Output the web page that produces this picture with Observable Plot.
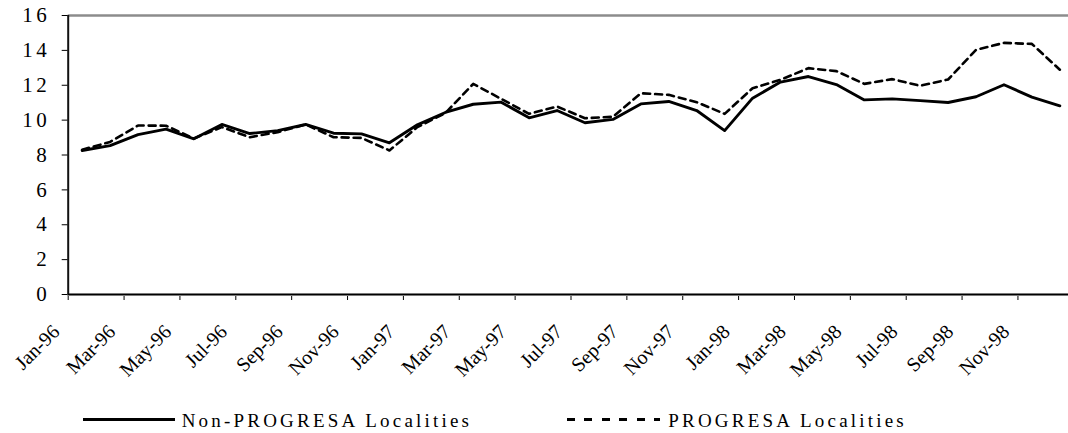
<!DOCTYPE html>
<html><head><meta charset="utf-8">
<script src="https://cdn.jsdelivr.net/npm/d3@7"></script>
<script src="https://cdn.jsdelivr.net/npm/@observablehq/plot@0.6"></script>
<style>
html,body{margin:0;padding:0;background:#fff;overflow:hidden;}
#chart svg{display:block;}
#chart g[aria-label="y-axis tick label"] text{letter-spacing:3.5px;}
#legend{position:relative;width:1068px;height:59px;font-family:"Liberation Serif","Times New Roman",serif;font-size:19px;line-height:19px;letter-spacing:3.2px;color:#000;}
#legend .sw{position:absolute;top:44px;height:2.6px;}
#legend .lb{position:absolute;top:37px;white-space:nowrap;}
</style></head>
<body><div id="chart"></div><div id="legend"></div>
<script>
const months = ["Jan-96","Feb-96","Mar-96","Apr-96","May-96","Jun-96","Jul-96","Aug-96","Sep-96","Oct-96","Nov-96","Dec-96",
  "Jan-97","Feb-97","Mar-97","Apr-97","May-97","Jun-97","Jul-97","Aug-97","Sep-97","Oct-97","Nov-97","Dec-97",
  "Jan-98","Feb-98","Mar-98","Apr-98","May-98","Jun-98","Jul-98","Aug-98","Sep-98","Oct-98","Nov-98","Dec-98"];
const nonProgresa = [8.26,8.54,9.17,9.48,8.93,9.75,9.23,9.40,9.75,9.25,9.21,8.70,
  9.73,10.44,10.91,11.03,10.13,10.55,9.85,10.04,10.93,11.07,10.55,9.40,
  11.26,12.18,12.50,12.04,11.16,11.22,11.12,11.01,11.34,12.03,11.32,10.82];
const progresa = [8.30,8.75,9.69,9.68,8.95,9.60,9.02,9.31,9.75,9.02,8.98,8.26,
  9.60,10.40,12.08,11.22,10.36,10.78,10.11,10.19,11.54,11.45,11.03,10.36,
  11.83,12.31,12.98,12.81,12.08,12.35,11.97,12.33,14.03,14.43,14.37,12.89];
const tickLabels = ["Jan-96","Mar-96","May-96","Jul-96","Sep-96","Nov-96","Jan-97","Mar-97","May-97","Jul-97","Sep-97","Nov-97",
  "Jan-98","Mar-98","May-98","Jul-98","Sep-98","Nov-98"];
const yTicks = [0,2,4,6,8,10,12,14,16];
const seriesNames = ["Non-PROGRESA Localities","PROGRESA Localities"];

const xTicks = tickLabels.map(l => months.indexOf(l));
const solidData = months.map((m,i) => ({i, v: nonProgresa[i]}));
const dashData = months.map((m,i) => ({i, v: progresa[i]}));

const chart = Plot.plot({
  width: 1068, height: 374,
  marginLeft: 67.7, marginRight: 0, marginTop: 15, marginBottom: 80,
  x: {domain: [0, 35.81]},
  y: {domain: [0, 16]},
  style: {fontFamily: "'Liberation Serif','Times New Roman',serif", fontSize: "20px", background: "white", color: "black", overflow: "visible"},
  marks: [
    Plot.ruleY([yTicks[yTicks.length-1]], {stroke: "#8c8c8c", strokeWidth: 2.3}),
    Plot.axisY({ticks: yTicks, tickSize: 6, tickPadding: 12, label: null, stroke: "black", fontSize: 21}),
    Plot.axisX({ticks: xTicks, tickSize: 6, tickFormat: () => "", label: null, stroke: "black"}),
    Plot.axisX({ticks: xTicks, tickSize: 0, tickPadding: 9, tickRotate: -45, tickFormat: d => months[d], label: null, dx: -12, dy: 25, fontSize: 20}),
    Plot.line(dashData, {x: d => d.i + 0.5, y: "v", stroke: "black", strokeWidth: 2.6, strokeDasharray: "7,5"}),
    Plot.line(solidData, {x: d => d.i + 0.5, y: "v", stroke: "black", strokeWidth: 2.9}),
    Plot.ruleY([0], {stroke: "#7a7a7a", strokeWidth: 3}),
    Plot.ruleY([0], {stroke: "#000", strokeWidth: 1.2}),
    Plot.ruleX([0], {stroke: "#111", strokeWidth: 2})
  ]
});
document.getElementById("chart").appendChild(chart);

const legend = document.getElementById("legend");
legend.innerHTML =
  `<div class="sw" style="left:83px;width:92px;background:#000"></div>` +
  `<div class="lb" style="left:181.7px">${seriesNames[0]}</div>` +
  `<div class="sw" style="left:567px;width:93px;background:repeating-linear-gradient(to right,#000 0 8px,transparent 8px 17.5px)"></div>` +
  `<div class="lb" style="left:668.3px">${seriesNames[1]}</div>`;
</script>
</body></html>
